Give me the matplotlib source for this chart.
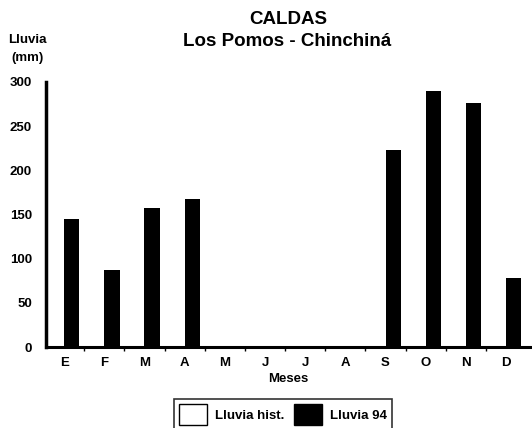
import numpy as np
import matplotlib
matplotlib.use('Agg')
import matplotlib.pyplot as plt
from matplotlib.patches import Patch

plt.rcParams['font.family'] = ['Liberation Sans', 'DejaVu Sans']
plt.rcParams['font.weight'] = 'bold'

meses = ['E', 'F', 'M', 'A', 'M', 'J', 'J', 'A', 'S', 'O', 'N', 'D']
# historical series is drawn white on white in the original, nothing readable
lluvia_hist = [0, 0, 0, 0, 0, 0, 0, 0, 0, 0, 0, 0]
lluvia_94 = [145, 87, 157, 168, 0, 0, 0, 0, 223, 290, 276, 78]
yticks = [0, 50, 100, 150, 200, 250, 300]

fig = plt.figure(figsize=(5.32, 4.28), dpi=100)
ax = fig.add_axes([46/532, 1-347/428, (531-46)/532, (347-82)/428])

x = np.arange(len(meses))
w = 0.38
ax.bar(x - w/2, lluvia_hist, w, color='white', edgecolor='none', zorder=1)
ax.bar(x + w/2, lluvia_94, w, color='black', edgecolor='none', zorder=2)

ax.set_xlim(-0.45, 11.62)
ax.set_ylim(0, 300)
ax.set_xticks(x)
ax.set_xticklabels(meses, fontsize=9.5, fontweight='bold')
ax.set_xticks(np.arange(0.5, 11, 1), minor=True)
ax.tick_params(axis='x', which='major', length=0, pad=7)
ax.tick_params(axis='x', which='minor', length=3, width=1, direction='out')
ax.set_yticks(yticks)
ax.set_yticklabels([str(v) for v in yticks], fontsize=9.5, fontweight='bold')
ax.tick_params(axis='y', length=0, pad=10)

for s in ['top', 'right']:
    ax.spines[s].set_visible(False)
ax.spines['left'].set_linewidth(2.5)
ax.spines['bottom'].set_linewidth(2.2)

ax.set_xlabel('Meses', fontsize=9.5, fontweight='bold', labelpad=3)

fig.text(288/532, 1-20/428, 'CALDAS', ha='center', va='center', fontsize=13.5, fontweight='bold')
fig.text(287/532, 1-41/428, 'Los Pomos - Chinchiná', ha='center', va='center', fontsize=13.5, fontweight='bold')
fig.text(27/532, 1-49/428, 'Lluvia\n(mm)', ha='center', va='center', fontsize=9.5, fontweight='bold', linespacing=1.6)

handles = [Patch(facecolor='white', edgecolor='black', linewidth=1),
           Patch(facecolor='black', edgecolor='black')]
leg = fig.legend(handles, ['Lluvia hist.', 'Lluvia 94'], loc='upper center',
                 bbox_to_anchor=(283/532, 1-392/428), ncol=2, fontsize=9.5,
                 frameon=True, fancybox=False, edgecolor='black',
                 handlelength=2.1, handleheight=2.1, handletextpad=0.6,
                 columnspacing=0.8, borderpad=0.4)
leg.get_frame().set_linewidth(1.2)

fig.savefig('out.png', dpi=100)
